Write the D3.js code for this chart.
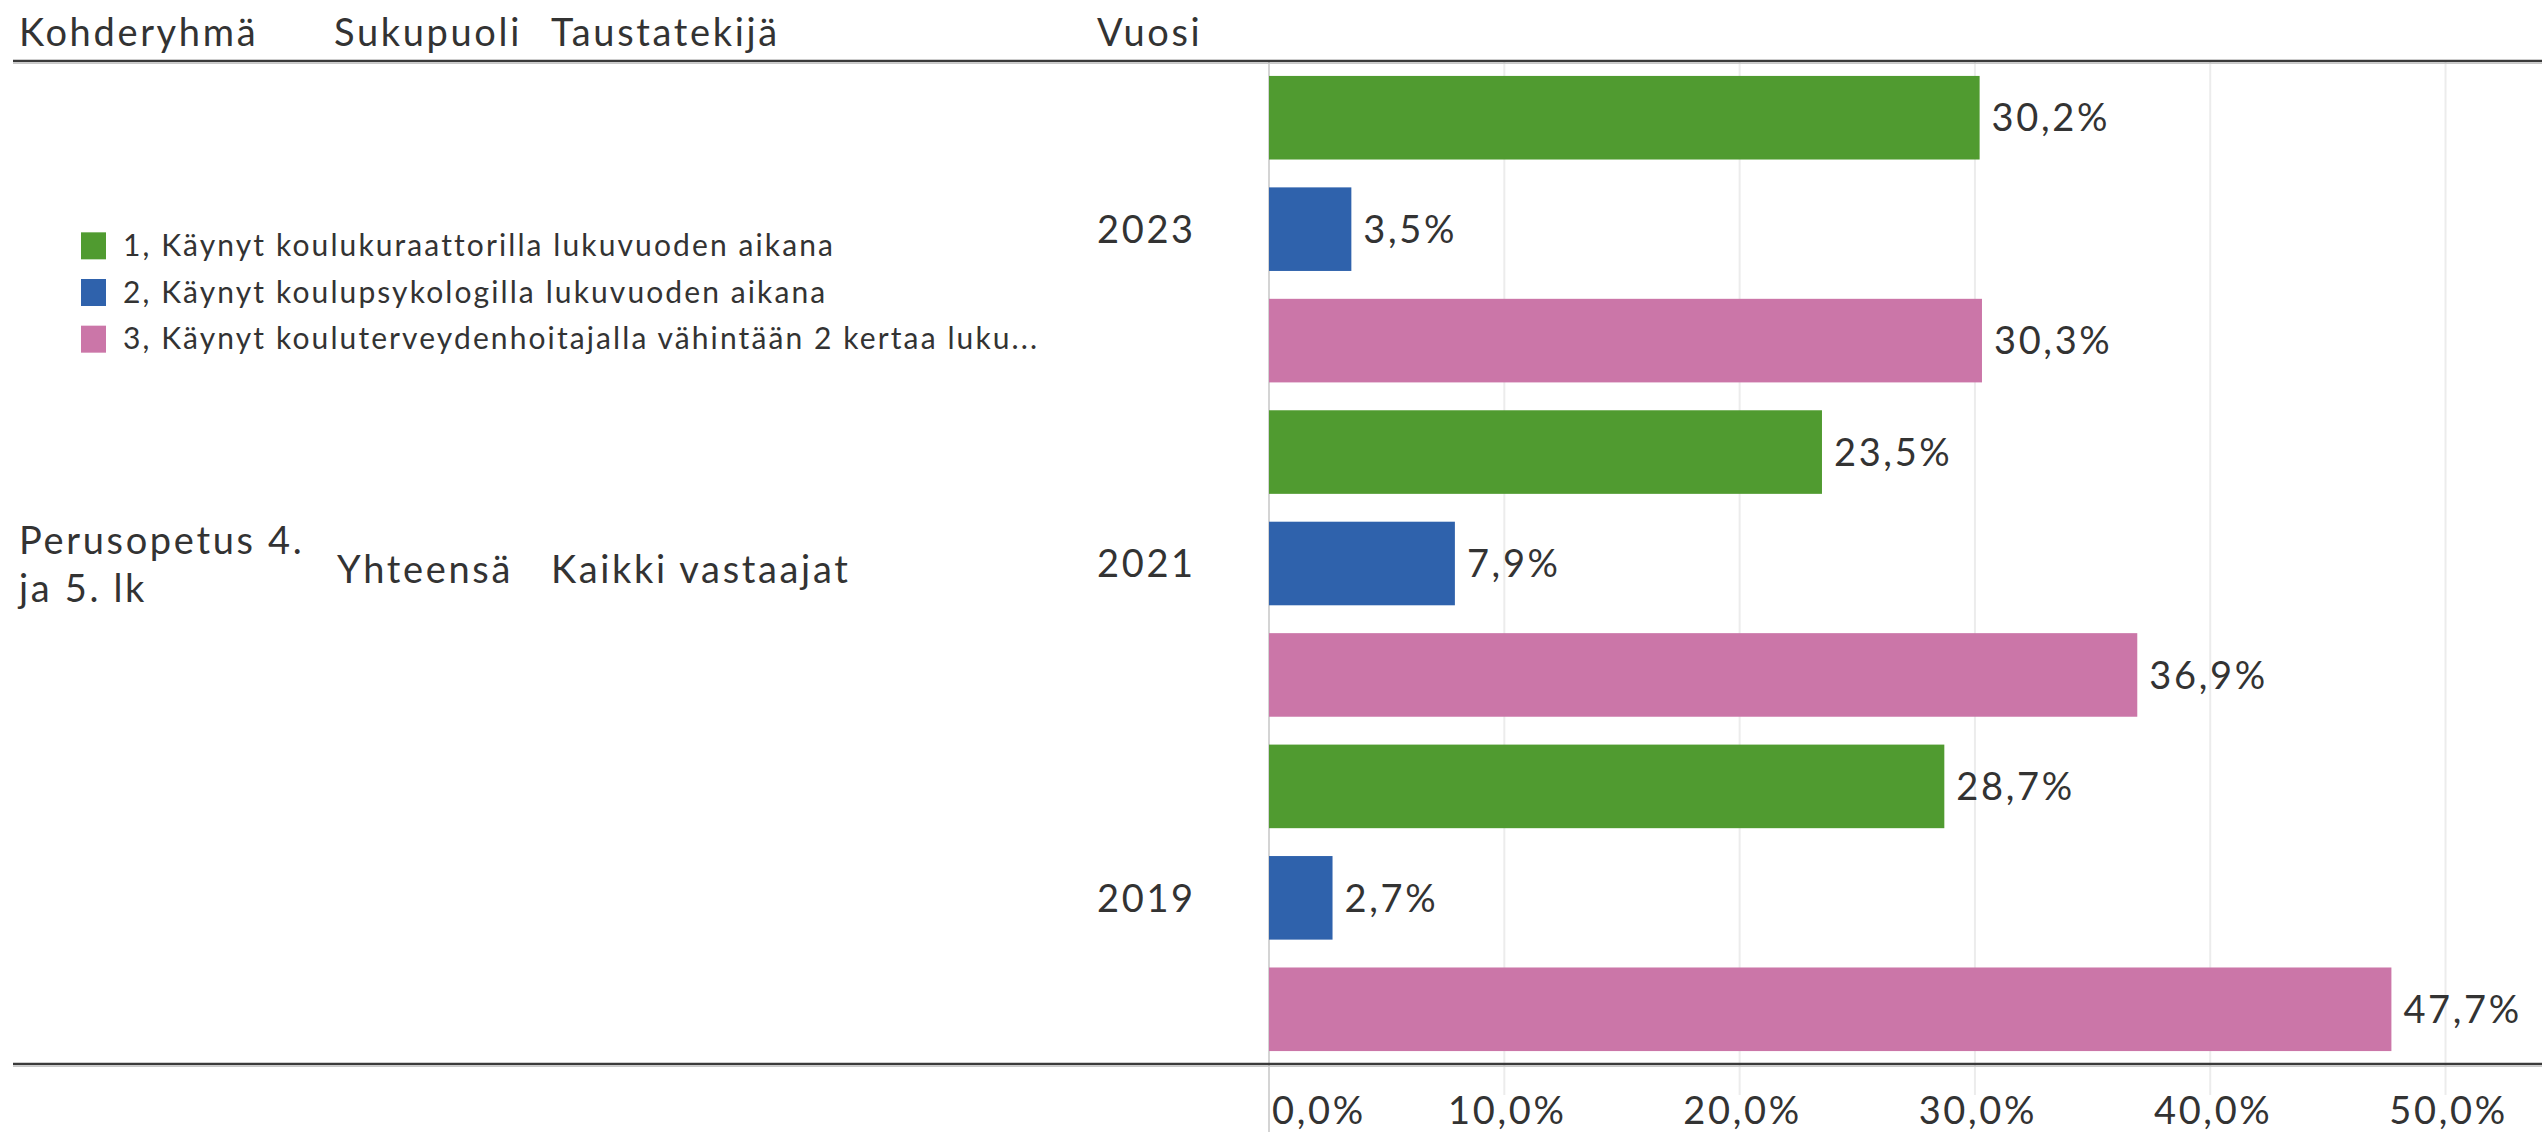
<!DOCTYPE html>
<html>
<head>
<meta charset="utf-8">
<script src="https://cdn.jsdelivr.net/npm/d3@7"></script>
<style>
  html, body { margin: 0; padding: 0; background: #fff; }
  svg { display: block; }
  text { font-family: Lato, "Open Sans", sans-serif; fill: #333; letter-spacing: 0.07em; }
</style>
</head>
<body>
<svg id="chart" width="2542" height="1132"></svg>
<script>
// ---- data ----
const headers = ["Kohderyhmä", "Sukupuoli", "Taustatekijä", "Vuosi"];
const kohderyhmaLines = ["Perusopetus 4.", "ja 5. lk"];
const sukupuoli = "Yhteensä";
const taustatekija = "Kaikki vastaajat";
const years = ["2023", "2021", "2019"];
const series = [
  "1, Käynyt koulukuraattorilla lukuvuoden aikana",
  "2, Käynyt koulupsykologilla lukuvuoden aikana",
  "3, Käynyt kouluterveydenhoitajalla vähintään 2 kertaa luku..."
];
const values2023 = [30.2, 3.5, 30.3];
const values2021 = [23.5, 7.9, 36.9];
const values2019 = [28.7, 2.7, 47.7];
const tickValues = [0, 10, 20, 30, 40, 50];
const colors = ["#509b30", "#2f62ac", "#cb76a8"];

(function () {
const valuesByYear = { "2023": values2023, "2021": values2021, "2019": values2019 };
const rows = [];
years.forEach(y => series.forEach((s, i) => rows.push({ year: y, si: i, key: y + "|" + i, value: valuesByYear[y][i] })));

// ---- layout ----
const svg = d3.select("#chart");
const paneTop = 62, paneBottom = 1065;
const x0 = 1269, x1 = 2542;
const fmt = v => d3.format(".1f")(v).replace(".", ",") + "%";

const x = d3.scaleLinear().domain([0, 54.1]).range([x0, x1]);
const y = d3.scaleBand().domain(rows.map(r => r.key)).range([paneTop, paneBottom]).paddingInner(0.25).paddingOuter(0.125);
const yYear = d3.scaleBand().domain(years).range([paneTop, paneBottom]);
const color = d3.scaleOrdinal().domain(d3.range(series.length)).range(colors);

// gridlines
svg.append("g").selectAll("line").data(tickValues).join("line")
  .attr("x1", d => x(d)).attr("x2", d => x(d))
  .attr("y1", paneTop).attr("y2", d => d === 0 ? 1132 : paneBottom + 30)
  .attr("stroke", d => d === 0 ? "#d4d4d4" : "#ececec").attr("stroke-width", 2);

// bars
svg.append("g").selectAll("rect").data(rows).join("rect")
  .attr("x", x(0)).attr("y", d => y(d.key))
  .attr("width", d => x(d.value) - x(0)).attr("height", y.bandwidth())
  .attr("fill", d => color(d.si));

// value labels
svg.append("g").selectAll("text").data(rows).join("text")
  .attr("x", d => x(d.value) + 12).attr("y", d => y(d.key) + y.bandwidth() / 2)
  .attr("dy", "0.36em").attr("font-size", 38)
  .text(d => fmt(d.value));

// header / footer rules
[paneTop, paneBottom].forEach(yy => {
  svg.append("line").attr("x1", 13).attr("x2", 2542).attr("y1", yy - 1).attr("y2", yy - 1)
    .attr("stroke", "#3a3a3a").attr("stroke-width", 2.5);
  svg.append("line").attr("x1", 13).attr("x2", 2542).attr("y1", yy + 1.5).attr("y2", yy + 1.5)
    .attr("stroke", "#c8c8c8").attr("stroke-width", 1);
});

// headers
const headerX = [19, 334, 551, 1097];
svg.append("g").selectAll("text").data(headers).join("text")
  .attr("x", (d, i) => headerX[i]).attr("y", 32).attr("dy", "0.36em")
  .attr("font-size", 38).attr("fill", "#222").text(d => d);

// row labels
const rl = svg.append("g");
rl.selectAll("text.k").data(kohderyhmaLines).join("text").attr("class", "k")
  .attr("x", 19).attr("y", (d, i) => 540 + i * 48).attr("dy", "0.36em").attr("font-size", 38).text(d => d);
rl.append("text").attr("x", 337).attr("y", 569).attr("dy", "0.36em").attr("font-size", 38).text(sukupuoli);
rl.append("text").attr("x", 551).attr("y", 569).attr("dy", "0.36em").attr("font-size", 38).text(taustatekija);

// year labels
svg.append("g").selectAll("text").data(years).join("text")
  .attr("x", 1097).attr("y", d => yYear(d) + yYear.bandwidth() / 2).attr("dy", "0.36em")
  .attr("font-size", 38).text(d => d);

// x axis labels
svg.append("g").selectAll("text").data(tickValues).join("text")
  .attr("x", d => d === 0 ? x(d) + 3 : x(d) + 3)
  .attr("y", 1110).attr("dy", "0.36em")
  .attr("text-anchor", d => d === 0 ? "start" : "middle")
  .attr("font-size", 38).text(d => fmt(d));

// legend
const lg = svg.append("g");
const legY = d3.scaleBand().domain(series).range([222, 362]);
lg.selectAll("rect").data(series).join("rect")
  .attr("x", 81).attr("y", d => legY(d) + legY.bandwidth() / 2 - 13)
  .attr("width", 25).attr("height", 27).attr("fill", (d, i) => colors[i]);
lg.selectAll("text").data(series).join("text")
  .attr("x", 123).attr("y", d => legY(d) + legY.bandwidth() / 2).attr("dy", "0.36em")
  .attr("font-size", 30).text(d => d);
})();
</script>
</body>
</html>
